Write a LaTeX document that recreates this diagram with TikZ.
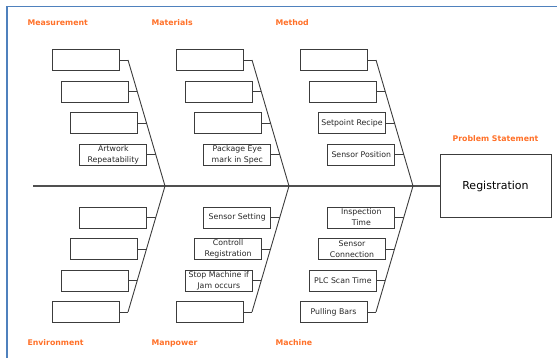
\documentclass[tikz,border=0pt]{standalone}
\usepackage{fontspec}
\setmainfont{DejaVu Sans}
\usepackage{xcolor}
\usepackage{tikz}
\usetikzlibrary{positioning,calc}

\definecolor{catorange}{RGB}{255,112,40}
\definecolor{frameblue}{RGB}{79,129,189}
\definecolor{bonegray}{RGB}{60,60,60}

\begin{document}
\begin{tikzpicture}[x=1pt, y=-1pt,
		cause/.style={draw=bonegray, line width=0.9pt, minimum width=67pt, minimum height=21pt, inner sep=0.3pt, align=center, font=\fontsize{7.8}{11}\selectfont, text=black!85},
		cat/.style={text=catorange, font=\fontsize{7.8}{9}\selectfont\bfseries, anchor=west, text height=1.6ex, text depth=.3ex},
		bone/.style={draw=bonegray, line width=0.9pt},
		spine/.style={draw=bonegray!90, line width=1.3pt}]
		\useasboundingbox (0,0) rectangle (557,358);
		\draw[frameblue, line width=1.6pt] (7,358) -- (7,6.5) -- (557,6.5);

		% head and spine
		\node[draw=bonegray, line width=0.9pt, minimum width=111pt, minimum height=63pt, font=\fontsize{11}{13}\selectfont] (prob) at (495.5,186) {Registration};
		\node[cat, anchor=center, above=7pt of prob] (probl) {Problem Statement};
		\coordinate (tail) at (33,186);
		\draw[spine] (tail) -- (prob);

		% bones
		\foreach \c/\up/\dn in {0/meas/env, 124/mat/man, 248/meth/mach}{
			\coordinate (\up-top) at (128+\c,60);
			\coordinate (\up-v) at (165+\c,186);
			\coordinate (\dn-bot) at (128+\c,312);
			\draw[bone] (\up-top) -- (\up-v) -- (\dn-bot);
			\foreach \t [count=\i] in {0,0.25,0.5,0.75}
				\coordinate (\up\i-j) at ($(\up-top)!\t!(\up-v)$);
			\foreach \t [count=\i] in {0.25,0.5,0.75,1}
				\coordinate (\dn\i-j) at ($(\up-v)!\t!(\dn-bot)$);
		}

		\node[cat] (measl) at (24,22) {Measurement};
		\node[cat] (matl) at (148,22) {Materials};
		\node[cat] (methl) at (272,22) {Method};
		\node[cat] (envl) at (24,342) {Environment};
		\node[cat] (manl) at (148,342) {Manpower};
		\node[cat] (machl) at (272,342) {Machine};

		\node[cause, left=8.5pt of meas1-j] (meas1) {};
		\node[cause, left=8.5pt of meas2-j] (meas2) {};
		\node[cause, left=8.5pt of meas3-j] (meas3) {};
		\node[cause, left=8.5pt of meas4-j] (meas4) {Artwork\\Repeatability};
		\node[cause, left=8.5pt of mat1-j] (mat1) {};
		\node[cause, left=8.5pt of mat2-j] (mat2) {};
		\node[cause, left=8.5pt of mat3-j] (mat3) {};
		\node[cause, left=8.5pt of mat4-j] (mat4) {Package Eye\\mark in Spec};
		\node[cause, left=8.5pt of meth1-j] (meth1) {};
		\node[cause, left=8.5pt of meth2-j] (meth2) {};
		\node[cause, left=8.5pt of meth3-j] (meth3) {Setpoint Recipe};
		\node[cause, left=8.5pt of meth4-j] (meth4) {Sensor Position};

		\node[cause, left=8.5pt of env1-j] (env1) {};
		\node[cause, left=8.5pt of env2-j] (env2) {};
		\node[cause, left=8.5pt of env3-j] (env3) {};
		\node[cause, left=8.5pt of env4-j] (env4) {};
		\node[cause, left=8.5pt of man1-j] (man1) {Sensor Setting};
		\node[cause, left=8.5pt of man2-j] (man2) {Controll\\Registration};
		\node[cause, left=8.5pt of man3-j] (man3) {Stop Machine if\\Jam occurs};
		\node[cause, left=8.5pt of man4-j] (man4) {};
		\node[cause, left=8.5pt of mach1-j] (mach1) {Inspection\\Time};
		\node[cause, left=8.5pt of mach2-j] (mach2) {Sensor\\Connection};
		\node[cause, left=8.5pt of mach3-j] (mach3) {PLC Scan Time};
		\node[cause, left=8.5pt of mach4-j] (mach4) {Pulling Bars};

		\foreach \n in {meas,mat,meth,env,man,mach}
			\foreach \i in {1,...,4}
				\draw[bone] (\n\i) -- (\n\i-j);
	\end{tikzpicture}
\end{document}
